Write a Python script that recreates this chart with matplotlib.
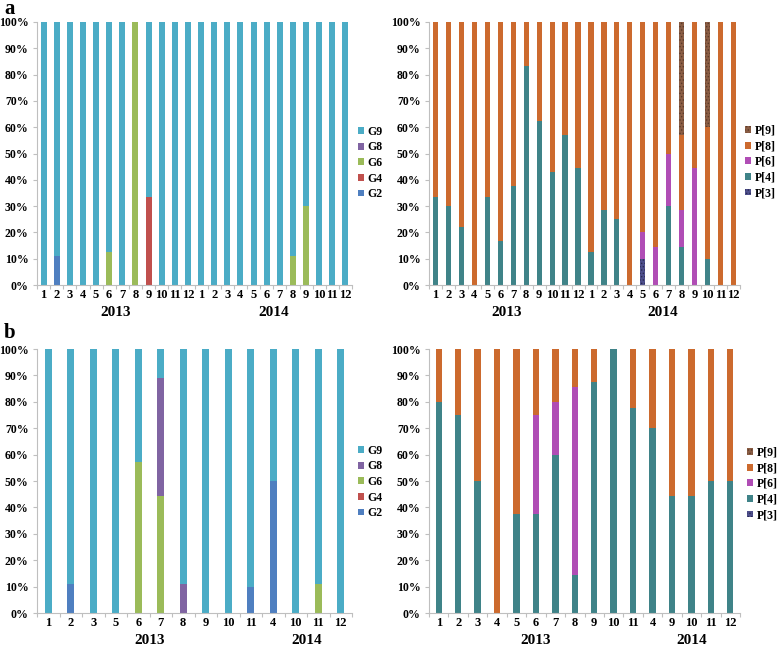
import numpy as np
import matplotlib
matplotlib.use("Agg")
import matplotlib.pyplot as plt

plt.rcParams['font.family'] = ['Liberation Serif', 'DejaVu Serif']
plt.rcParams['font.weight'] = 'bold'
plt.rcParams['hatch.linewidth'] = 0.6

# ---- data ----
months_a = [str(m) for m in range(1, 13)] * 2

# panel a, G genotypes (percent)
a_G2 = [0, 11.1, 0, 0, 0, 0, 0, 0, 0, 0, 0, 0,   0, 0, 0, 0, 0, 0, 0, 0, 0, 0, 0, 0]
a_G4 = [0, 0, 0, 0, 0, 0, 0, 0, 33.3, 0, 0, 0,   0, 0, 0, 0, 0, 0, 0, 0, 0, 0, 0, 0]
a_G6 = [0, 0, 0, 0, 0, 12.5, 0, 100, 0, 0, 0, 0, 0, 0, 0, 0, 0, 0, 0, 11.1, 30, 0, 0, 0]
a_G8 = [0] * 24

# panel a, P genotypes (percent)
a_P3 = [0] * 12 + [0, 0, 0, 0, 10, 0, 0, 0, 0, 0, 0, 0]
a_P4 = [33.3, 30, 22.2, 0, 33.3, 16.7, 37.5, 83.3, 62.5, 42.9, 57.1, 44.4,
        12.5, 28.6, 25, 0, 0, 0, 30, 14.3, 0, 10, 0, 0]
a_P6 = [0] * 12 + [0, 0, 0, 0, 10, 14.3, 20, 14.3, 44.4, 0, 0, 0]
a_P9 = [0] * 12 + [0, 0, 0, 0, 0, 0, 0, 42.9, 0, 40, 0, 0]

# panel b, G genotypes
months_bG = ['1', '2', '3', '5', '6', '7', '8', '9', '10', '11', '4', '10', '11', '12']
n13_bG = 10
b_G2 = [0, 11.1, 0, 0, 0, 0, 0, 0, 0, 10, 50, 0, 0, 0]
b_G4 = [0] * 14
b_G6 = [0, 0, 0, 0, 57.1, 44.4, 0, 0, 0, 0, 0, 0, 11.1, 0]
b_G8 = [0, 0, 0, 0, 0, 44.5, 11.1, 0, 0, 0, 0, 0, 0, 0]

# panel b, P genotypes
months_bP = ['1', '2', '3', '4', '5', '6', '7', '8', '9', '10', '11', '4', '9', '10', '11', '12']
n13_bP = 11
b_P3 = [0] * 16
b_P4 = [80, 75, 50, 0, 37.5, 37.5, 60, 14.3, 87.5, 100, 77.8, 70, 44.4, 44.4, 50, 50]
b_P6 = [0, 0, 0, 0, 0, 37.5, 20, 71.4, 0, 0, 0, 0, 0, 0, 0, 0]
b_P9 = [0] * 16

G_names = ['G2', 'G4', 'G6', 'G8', 'G9']
G_colors = ['#4F7FC0', '#C0504D', '#9BBB59', '#8064A2', '#4BACC6']
P_names = ['P[3]', 'P[4]', 'P[6]', 'P[8]', 'P[9]']
P_colors = ['#4E4F8C', '#3F8388', '#B04DB5', '#CC6A2E', '#8A5D44']
P_hatch = ['.....', None, None, None, '.....']

W, H = 778, 647
fig = plt.figure(figsize=(W / 100, H / 100), dpi=100)


def px_axes(x0, x1, ytop, ybot):
    return fig.add_axes([x0 / W, (H - ybot) / H, (x1 - x0) / W, (ybot - ytop) / H])


def draw(ax, series, names, colors, labels, n13, width, leg_xy, hatches=None):
    n = len(labels)
    x = np.arange(n)
    series = [np.array(s, dtype=float) for s in series]
    if len(series) < len(names):
        series = series + [100 - sum(series)]
    bottom = np.zeros(n)
    handles = []
    for i, (vals, name, col) in enumerate(zip(series, names, colors)):
        h = hatches[i] if hatches else None
        ec = None if h is None else ('#2a2a50' if i == 0 else '#5a3a2a')
        b = ax.bar(x, vals, width, bottom=bottom, color=col, label=name,
                   hatch=h, edgecolor=ec, linewidth=0)
        handles.append(b)
        bottom += vals
    ax.set_xlim(-0.5, n - 0.5)
    ax.set_ylim(0, 100)
    ax.set_yticks(np.arange(0, 101, 10))
    ax.set_yticklabels([f'{v}%' for v in range(0, 101, 10)], fontsize=8.5, fontweight='bold')
    ax.set_xticks(x)
    ax.set_xticklabels(labels, fontsize=9, fontweight='bold')
    ax.set_xticks(np.arange(-0.5, n, 1), minor=True)
    ax.tick_params(axis='x', which='major', length=0, pad=3)
    ax.tick_params(axis='x', which='minor', length=3, color='#BFBFBF', width=0.8)
    ax.tick_params(axis='y', length=3, color='#BFBFBF', width=0.8, pad=3)
    for s in ['top', 'right']:
        ax.spines[s].set_visible(False)
    for s in ['left', 'bottom']:
        ax.spines[s].set_color('#BFBFBF')
        ax.spines[s].set_linewidth(0.8)
    c13 = (n13 - 1) / 2
    c14 = (n13 + n - 1) / 2
    for cx, yr in [(c13, '2013'), (c14, '2014')]:
        ax.annotate(yr, (cx, 0), xycoords=ax.get_xaxis_transform(), xytext=(0, -27),
                    textcoords='offset pixels', ha='center', va='center',
                    fontsize=11, fontweight='bold')
    fig.legend(handles[::-1], names[::-1], loc='center left',
               bbox_to_anchor=(leg_xy[0] / W, 1 - leg_xy[1] / H), frameon=False,
               fontsize=8.5, handlelength=0.5, handleheight=0.5, handletextpad=0.3,
               labelspacing=0.3, borderpad=0, borderaxespad=0)
    return ax


ax1 = px_axes(37, 352, 22, 285)
draw(ax1, [a_G2, a_G4, a_G6, a_G8], G_names, G_colors, months_a, 12, 0.45, (358, 163))
ax2 = px_axes(429, 740, 22, 285)
a_P8 = 100 - np.array(a_P3) - np.array(a_P4) - np.array(a_P6) - np.array(a_P9)
draw(ax2, [a_P3, a_P4, a_P6, a_P8, a_P9], P_names, P_colors, months_a, 12, 0.4, (745, 162), P_hatch)
ax3 = px_axes(37, 352, 349, 613)
draw(ax3, [b_G2, b_G4, b_G6, b_G8], G_names, G_colors, months_bG, n13_bG, 0.3, (358, 482))
ax4 = px_axes(429, 740, 349, 613)
b_P8 = 100 - np.array(b_P3) - np.array(b_P4) - np.array(b_P6) - np.array(b_P9)
draw(ax4, [b_P3, b_P4, b_P6, b_P8, b_P9], P_names, P_colors, months_bP, n13_bP, 0.33, (747, 484), P_hatch)

fig.text(4 / W, 1 - 9 / H, 'a', fontsize=15, fontweight='bold', va='center', ha='left')
fig.text(4 / W, 1 - 333 / H, 'b', fontsize=15, fontweight='bold', va='center', ha='left')

fig.savefig('out.png', dpi=100)
